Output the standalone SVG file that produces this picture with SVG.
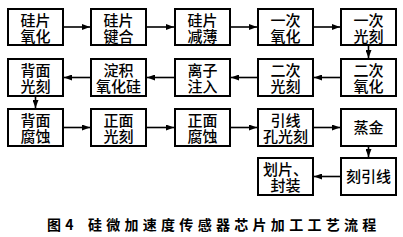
<svg xmlns="http://www.w3.org/2000/svg" width="403" height="237" viewBox="0 0 403 237">
<style>
.box{fill:#fff;stroke:#000;stroke-width:2}
.t{font-family:"Noto Sans CJK SC","Noto Sans CJK JP",sans-serif;font-size:15px;fill:#000;text-anchor:middle;font-weight:500}
.c{stroke:#000;stroke-width:1.6;fill:none;marker-end:url(#ah)}
.cap{font-family:"Noto Sans CJK SC",sans-serif;font-size:14px;font-weight:bold;fill:#000;letter-spacing:4.3px}
</style>
<defs>
<marker id="ah" markerWidth="8" markerHeight="6" refX="8" refY="3" orient="auto" markerUnits="userSpaceOnUse">
<path d="M0,0 L8,3 L0,6 Z" fill="#000"/>
</marker>
</defs>
<rect width="403" height="237" fill="#fff"/>
<g id="n1"><rect class="box" x="8" y="9" width="55" height="36"/><text class="t" x="35.5" y="25.5">硅片<tspan x="35.5" dy="16">氧化</tspan></text></g>
<g id="n2"><rect class="box" x="91" y="9" width="55" height="36"/><text class="t" x="118.5" y="25.5">硅片<tspan x="118.5" dy="16">键合</tspan></text></g>
<g id="n3"><rect class="box" x="175" y="9" width="55" height="36"/><text class="t" x="202.5" y="25.5">硅片<tspan x="202.5" dy="16">减薄</tspan></text></g>
<g id="n4"><rect class="box" x="258" y="9" width="55" height="36"/><text class="t" x="285.5" y="25.5">一次<tspan x="285.5" dy="16">氧化</tspan></text></g>
<g id="n5"><rect class="box" x="341" y="9" width="55" height="36"/><text class="t" x="368.5" y="25.5">一次<tspan x="368.5" dy="16">光刻</tspan></text></g>
<g id="n6"><rect class="box" x="341" y="59" width="55" height="37"/><text class="t" x="368.5" y="76">二次<tspan x="368.5" dy="16">氧化</tspan></text></g>
<g id="n7"><rect class="box" x="258" y="59" width="55" height="37"/><text class="t" x="285.5" y="76">二次<tspan x="285.5" dy="16">光刻</tspan></text></g>
<g id="n8"><rect class="box" x="175" y="59" width="55" height="37"/><text class="t" x="202.5" y="76">离子<tspan x="202.5" dy="16">注入</tspan></text></g>
<g id="n9"><rect class="box" x="91" y="59" width="55" height="37"/><text class="t" x="118.5" y="76">淀积<tspan x="118.5" dy="16">氧化硅</tspan></text></g>
<g id="n10"><rect class="box" x="8" y="59" width="55" height="37"/><text class="t" x="35.5" y="76">背面<tspan x="35.5" dy="16">光刻</tspan></text></g>
<g id="n11"><rect class="box" x="8" y="109" width="55" height="37"/><text class="t" x="35.5" y="126">背面<tspan x="35.5" dy="16">腐蚀</tspan></text></g>
<g id="n12"><rect class="box" x="91" y="109" width="55" height="37"/><text class="t" x="118.5" y="126">正面<tspan x="118.5" dy="16">光刻</tspan></text></g>
<g id="n13"><rect class="box" x="175" y="109" width="55" height="37"/><text class="t" x="202.5" y="126">正面<tspan x="202.5" dy="16">腐蚀</tspan></text></g>
<g id="n14"><rect class="box" x="258" y="109" width="55" height="37"/><text class="t" x="285.5" y="126">引线<tspan x="285.5" dy="16">孔光刻</tspan></text></g>
<g id="n15"><rect class="box" x="341" y="109" width="55" height="37"/><text class="t" x="368.5" y="133">蒸金</text></g>
<g id="n16"><rect class="box" x="341" y="158" width="55" height="37"/><text class="t" x="368.5" y="182">刻引线</text></g>
<g id="n17"><rect class="box" x="258" y="158" width="55" height="37"/><text class="t" x="285.5" y="175">划片、<tspan x="285.5" dy="16">封装</tspan></text></g>
<g id="connectors">
<line class="c" x1="63" y1="27" x2="90" y2="27"/>
<line class="c" x1="146" y1="27" x2="174" y2="27"/>
<line class="c" x1="230" y1="27" x2="257" y2="27"/>
<line class="c" x1="313" y1="27" x2="340" y2="27"/>
<line class="c" x1="368.5" y1="45" x2="368.5" y2="58"/>
<line class="c" x1="341" y1="77.5" x2="314" y2="77.5"/>
<line class="c" x1="258" y1="77.5" x2="231" y2="77.5"/>
<line class="c" x1="175" y1="77.5" x2="147" y2="77.5"/>
<line class="c" x1="91" y1="77.5" x2="64" y2="77.5"/>
<line class="c" x1="35.5" y1="96" x2="35.5" y2="108"/>
<line class="c" x1="63" y1="127.5" x2="90" y2="127.5"/>
<line class="c" x1="146" y1="127.5" x2="174" y2="127.5"/>
<line class="c" x1="230" y1="127.5" x2="257" y2="127.5"/>
<line class="c" x1="313" y1="127.5" x2="340" y2="127.5"/>
<line class="c" x1="368.5" y1="146" x2="368.5" y2="157"/>
<line class="c" x1="341" y1="176.5" x2="314" y2="176.5"/>
</g>
<text class="cap" x="47" y="230">图4<tspan dx="10">硅微加速度传感器芯片加工工艺流程</tspan></text>
</svg>
